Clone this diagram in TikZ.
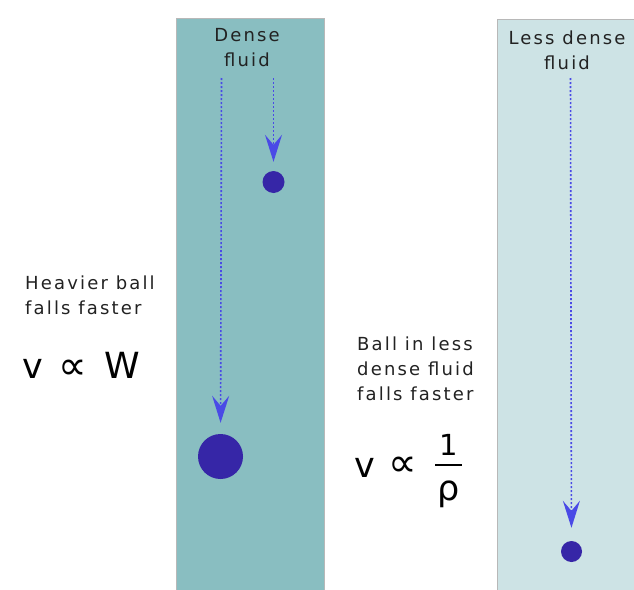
\documentclass[tikz,border=0pt]{standalone}
\usepackage{fontspec}
\setmainfont{DejaVu Sans}
\newfontfamily\spacedfont{DejaVu Sans}[LetterSpace=12]
\usetikzlibrary{arrows.meta}

\definecolor{denseblue}{HTML}{89BEC1}
\definecolor{lightblue}{HTML}{CDE3E5}
\definecolor{tankedge}{HTML}{B8B8B8}
\definecolor{ballcol}{HTML}{3626A7}
\definecolor{arrowcol}{HTML}{4A4AE6}
\definecolor{labelcol}{HTML}{222222}

\begin{document}
\begin{tikzpicture}[x=1pt,y=-1pt,
  tank/.style={draw=tankedge,line width=0.8pt},
  lbl/.style={font=\spacedfont\fontsize{18}{25}\selectfont,text=labelcol,inner sep=0pt},
  ball/.style={circle,fill=ballcol,draw=none,inner sep=0pt},
  fall/.style={draw=arrowcol,line width=1.6pt,dash pattern=on 2pt off 2pt,
    -{Stealth[length=27pt,width=17pt,inset=10pt]}},
  sym/.style={inner sep=0pt,anchor=base west,text=black}]
\useasboundingbox (0,0) rectangle (634,589);
\fill[white] (0,0) rectangle (634,589);

% the two fluid columns
\filldraw[tank,fill=denseblue] (176,595) -- (176,18) -- (324.5,18) -- (324.5,595);
\filldraw[tank,fill=lightblue] (497,595) -- (497,19) -- (640,19) -- (640,595);

% column captions
\node[lbl,align=center,anchor=north] (densecap) at (247,28.5) {Dense\\fluid};
\node[lbl,align=center,anchor=north] (lesscap) at (567,31) {Less dense\\fluid};

% balls
\node[ball,minimum size=22pt] (smallball) at (273.5,182) {};
\node[ball,minimum width=45pt,minimum height=43pt] (bigball) at (220.5,456.5) {};
\node[ball,minimum size=21pt] (rightball) at (571.5,551.5) {};

% paths of fall
\coordinate (bigstart) at (221.5,78);
\coordinate (smallstart) at (273.5,78);
\coordinate (rightstart) at (570.5,78);
\draw[fall,shorten >=11pt] (bigstart) -- (bigball);
\draw[fall,shorten >=9pt] (smallstart) -- (smallball);
\draw[fall,shorten >=13pt] (rightstart) -- (rightball);

% left explanation
\node[lbl,align=left,anchor=north west] (heavytxt) at (25,275.5) {Heavier ball\\falls faster};
\node[sym,font=\fontsize{35}{35}\selectfont] (lv) at (22,378) {v};
\node[sym,font=\fontsize{40}{40}\selectfont] (lprop) at (58,379) {∝};
\node[sym,font=\fontsize{36}{36}\selectfont] (lw) at (104,378) {W};

% right explanation
\node[lbl,align=left,anchor=north west] (lesstxt) at (357,336.5) {Ball in less\\dense fluid\\falls faster};
\node[sym,font=\fontsize{35}{35}\selectfont] (rv) at (354,477) {v};
\node[sym,font=\fontsize{40}{40}\selectfont] (rprop) at (388,476) {∝};
\node[sym,font=\fontsize{29}{29}\selectfont,anchor=base] (num) at (449,455.5) {1};
\node[sym,font=\fontsize{35}{35}\selectfont,anchor=base] (den) at (448.5,500) {ρ};
\draw[black,line width=1.8pt] (435,465) -- (462,465);
\end{tikzpicture}
\end{document}
